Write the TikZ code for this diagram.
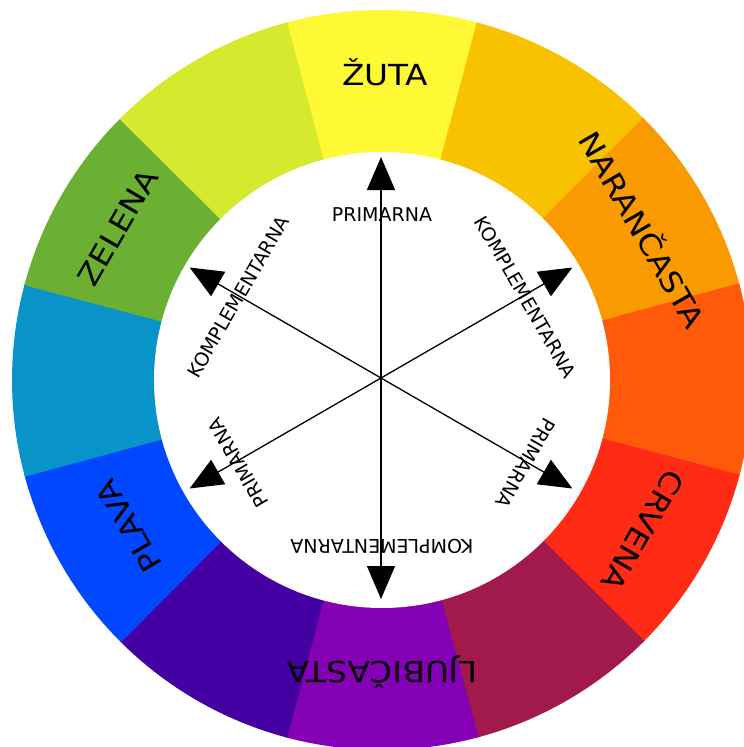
\documentclass[tikz,border=0pt]{standalone}
\usepackage{fontspec}
\setmainfont{DejaVu Sans}
\newfontfamily\bigfont[FakeStretch=1.13]{DejaVu Sans}
\usetikzlibrary{arrows.meta}
\definecolor{cY}{HTML}{FFF835}
\definecolor{cYO}{HTML}{F8C200}
\definecolor{cO}{HTML}{F99B00}
\definecolor{cRO}{HTML}{FF5A0A}
\definecolor{cR}{HTML}{FF2B14}
\definecolor{cRV}{HTML}{A2194B}
\definecolor{cV}{HTML}{8400B4}
\definecolor{cBV}{HTML}{4400A3}
\definecolor{cB}{HTML}{0047FF}
\definecolor{cBG}{HTML}{0893C9}
\definecolor{cG}{HTML}{6BB032}
\definecolor{cYG}{HTML}{D5EA2E}
\begin{document}
\begin{tikzpicture}[x=1pt,y=1pt,
  ringlabel/.style={font=\bigfont\fontsize{29}{29}\selectfont, inner sep=0pt,
    text height=21pt, text depth=0pt, anchor=center, text=black},
  armlabel/.style={font=\fontsize{19}{19}\selectfont, inner sep=0pt,
    text height=14pt, text depth=0pt, anchor=center, text=black},
  arm/.style={line width=1.3pt, draw=black, -{Triangle[length=33pt,width=28pt]}}]
\useasboundingbox (0,0) rectangle (744,-747);
\fill[white] (0,0) rectangle (744,-747);
\coordinate (o) at (382,-380);
\coordinate (x) at (381,-378);
% colour ring
\foreach \a/\c in {90/cY, 60/cYO, 30/cO, 0/cRO, -30/cR, -60/cRV, -90/cV, -120/cBV, -150/cB, 180/cBG, 150/cG, 120/cYG}
  \fill[\c] (o) -- ++({\a-15.15}:370pt) arc[start angle={\a-15.15}, end angle={\a+15.15}, radius=370pt] -- cycle;
\fill[white] (o) circle[radius=228pt];
% ring labels
\path (o) ++(89.4:305.5pt) node[ringlabel, rotate=0] (lzuta) {ŽUTA};
\path (o) ++(30:300pt) node[ringlabel, rotate=-60] (lnar) {NARANČASTA};
\path (o) ++(-30:301pt) node[ringlabel, rotate=-120] (lcrv) {CRVENA};
\path (o) ++(-90:292pt) node[ringlabel, rotate=180] (lljub) {LJUBIČASTA};
\path (o) ++(-150:292pt) node[ringlabel, rotate=120] (lplava) {PLAVA};
\path (o) ++(150:305pt) node[ringlabel, rotate=60] (lzel) {ZELENA};
% arrow tips
\foreach \a in {90,30,-30,-90,-150,150}
  \path (x) ++(\a:221pt) coordinate (t\a);
\foreach \a in {90,30,-30,-90,-150,150}
  \draw[arm] (x) -- (t\a);
% arm labels
\path (o) ++(90:166pt) node[armlabel, rotate=0] (a90) {PRIMARNA};
\path (o) ++(30:166pt) node[armlabel, rotate=-60] (a30) {KOMPLEMENTARNA};
\path (o) ++(-30:166pt) node[armlabel, rotate=-120] (am30) {PRIMARNA};
\path (o) ++(-90:166pt) node[armlabel, rotate=180] (am90) {KOMPLEMENTARNA};
\path (o) ++(-150:166pt) node[armlabel, rotate=120] (am150) {PRIMARNA};
\path (o) ++(150:166pt) node[armlabel, rotate=60] (a150) {KOMPLEMENTARNA};
\end{tikzpicture}
\end{document}
